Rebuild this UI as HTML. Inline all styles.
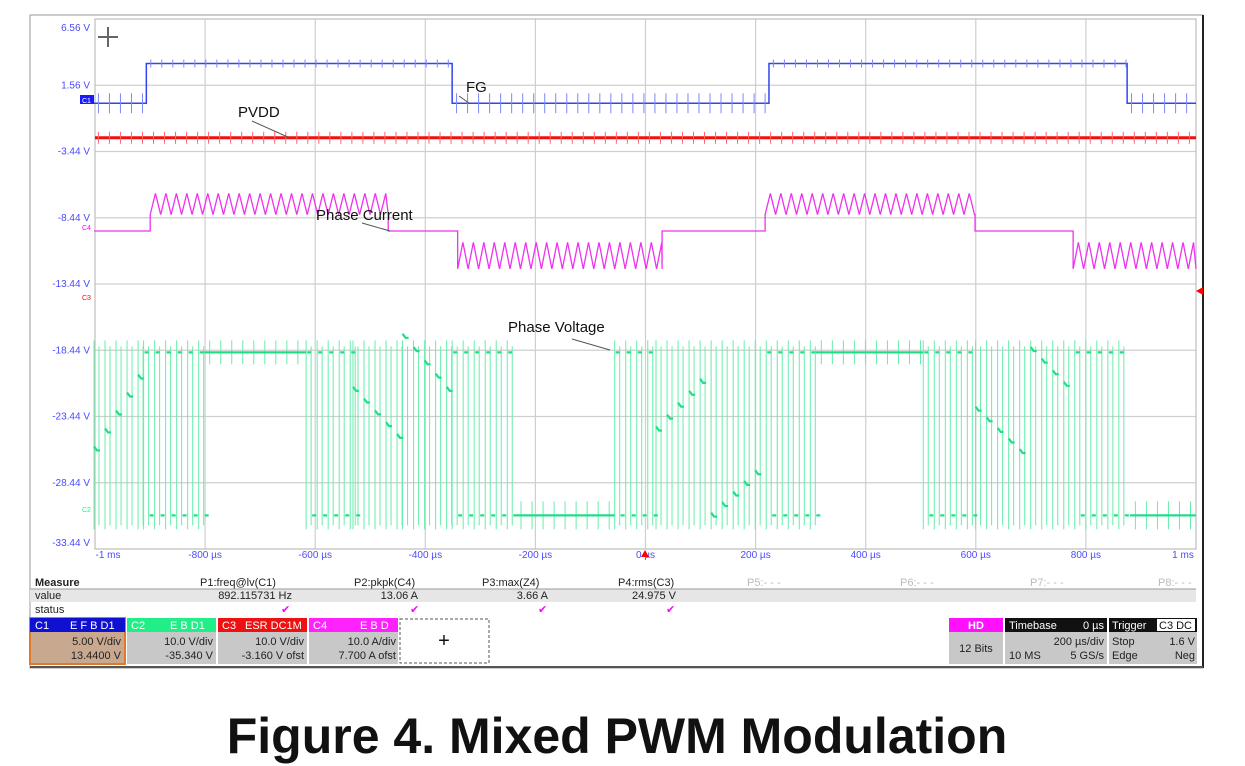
<!DOCTYPE html>
<html><head><meta charset="utf-8">
<style>
body{margin:0;background:#fff;width:1245px;height:766px;overflow:hidden;font-family:"Liberation Sans",sans-serif}
svg{position:absolute;left:0;top:0}
</style></head>
<body>
<svg id="scope" width="1245" height="766" viewBox="0 0 1245 766" xmlns="http://www.w3.org/2000/svg" font-family="Liberation Sans, sans-serif">
<rect x="30" y="15" width="1173" height="653" fill="#fff" stroke="#999" stroke-width="1"/>
<line x1="1203" y1="15" x2="1203" y2="668" stroke="#222" stroke-width="2"/>
<g id="grid"></g>
<g id="ylabels"></g>
<g id="xlabels"></g>
<g id="traces"></g>
<g stroke="#666" stroke-width="2" fill="none"><line x1="98" y1="37" x2="118" y2="37"/><line x1="108" y1="27" x2="108" y2="47"/></g>
<g font-size="15" fill="#111">
<text x="466" y="92">FG</text>
<line x1="459" y1="96" x2="469" y2="103" stroke="#555"/>
<text x="238" y="117">PVDD</text>
<line x1="252" y1="121" x2="290" y2="138" stroke="#555"/>
<text x="316" y="220">Phase Current</text>
<line x1="362" y1="223" x2="390" y2="231" stroke="#555"/>
<text x="508" y="332">Phase Voltage</text>
<line x1="572" y1="339" x2="610" y2="350" stroke="#555"/>
</g>
<rect x="80" y="95" width="14" height="9" fill="#1a1aff"/>
<text x="82" y="103" font-size="7" fill="#fff">C1</text>
<text x="82" y="230" font-size="7" fill="#f0f">C4</text>
<text x="82" y="300" font-size="7" fill="#f00">C3</text>
<text x="82" y="512" font-size="7" fill="#2e8">C2</text>
<polygon points="1196,291 1203,287 1203,295" fill="#f00"/>
<polygon points="645,550 641,557 649,557" fill="#f00"/>

<g font-size="11" fill="#222">
<text x="35" y="586" font-weight="bold">Measure</text>
<text x="200" y="586">P1:freq@lv(C1)</text>
<text x="354" y="586">P2:pkpk(C4)</text>
<text x="482" y="586">P3:max(Z4)</text>
<text x="618" y="586">P4:rms(C3)</text>
<text x="747" y="586" fill="#bbb">P5:- - -</text>
<text x="900" y="586" fill="#bbb">P6:- - -</text>
<text x="1030" y="586" fill="#bbb">P7:- - -</text>
<text x="1158" y="586" fill="#bbb">P8:- - -</text>
<rect x="30" y="589" width="1166" height="13" fill="#e6e6e6"/>
<line x1="30" y1="589" x2="1196" y2="589" stroke="#999"/>
<text x="35" y="599">value</text>
<text x="292" y="599" text-anchor="end">892.115731 Hz</text>
<text x="418" y="599" text-anchor="end">13.06 A</text>
<text x="548" y="599" text-anchor="end">3.66 A</text>
<text x="676" y="599" text-anchor="end">24.975 V</text>
<text x="35" y="613">status</text>
<g fill="#f0f" font-size="11"><text x="281" y="613">✔</text><text x="410" y="613">✔</text><text x="538" y="613">✔</text><text x="666" y="613">✔</text></g>
</g>
<g font-size="11">
<rect x="30" y="618" width="95" height="46" fill="#c8a88f" stroke="#e07a2a" stroke-width="2"/>
<rect x="30" y="618" width="95" height="14" fill="#1010d0"/>
<text x="35" y="629" fill="#fff">C1</text><text x="70" y="629" fill="#fff">E F B D1</text>
<text x="121" y="645" text-anchor="end" fill="#222">5.00 V/div</text><text x="121" y="659" text-anchor="end" fill="#222">13.4400 V</text>
<rect x="127" y="618" width="89" height="46" fill="#c8c8c8"/>
<rect x="127" y="618" width="89" height="14" fill="#22ee88"/>
<text x="131" y="629" fill="#fff">C2</text><text x="170" y="629" fill="#fff">E B D1</text>
<text x="213" y="645" text-anchor="end" fill="#222">10.0 V/div</text><text x="213" y="659" text-anchor="end" fill="#222">-35.340 V</text>
<rect x="218" y="618" width="89" height="46" fill="#c8c8c8"/>
<rect x="218" y="618" width="89" height="14" fill="#ee1111"/>
<text x="222" y="629" fill="#fff">C3</text><text x="245" y="629" fill="#fff">ESR DC1M</text>
<text x="304" y="645" text-anchor="end" fill="#222">10.0 V/div</text><text x="304" y="659" text-anchor="end" fill="#222">-3.160 V ofst</text>
<rect x="309" y="618" width="89" height="46" fill="#c8c8c8"/>
<rect x="309" y="618" width="89" height="14" fill="#ff22ff"/>
<text x="313" y="629" fill="#fff">C4</text><text x="360" y="629" fill="#fff">E B D</text>
<text x="396" y="645" text-anchor="end" fill="#222">10.0 A/div</text><text x="396" y="659" text-anchor="end" fill="#222">7.700 A ofst</text>
<rect x="400" y="619" width="89" height="44" fill="#fff" stroke="#555" stroke-dasharray="3,2"/>
<text x="444" y="647" text-anchor="middle" font-size="20" fill="#111">+</text>
<rect x="949" y="618" width="54" height="46" fill="#c8c8c8"/>
<rect x="949" y="618" width="54" height="14" fill="#ff11ff"/>
<text x="976" y="629" text-anchor="middle" fill="#fff" font-weight="bold">HD</text>
<text x="976" y="652" text-anchor="middle" fill="#222">12 Bits</text>
<rect x="1005" y="618" width="102" height="46" fill="#c8c8c8"/>
<rect x="1005" y="618" width="102" height="14" fill="#111"/>
<text x="1009" y="629" fill="#fff">Timebase</text><text x="1104" y="629" text-anchor="end" fill="#fff">0 µs</text>
<text x="1104" y="645" text-anchor="end" fill="#222">200 µs/div</text>
<text x="1009" y="659" fill="#222">10 MS</text><text x="1104" y="659" text-anchor="end" fill="#222">5 GS/s</text>
<rect x="1109" y="618" width="88" height="46" fill="#c8c8c8"/>
<rect x="1109" y="618" width="88" height="14" fill="#111"/>
<text x="1112" y="629" fill="#fff">Trigger</text><rect x="1157" y="619" width="38" height="12" fill="#fff"/><text x="1159" y="629" fill="#111">C3 DC</text>
<text x="1112" y="645" fill="#222">Stop</text><text x="1195" y="645" text-anchor="end" fill="#222">1.6 V</text>
<text x="1112" y="659" fill="#222">Edge</text><text x="1195" y="659" text-anchor="end" fill="#222">Neg</text>
</g>
<line x1="30" y1="667" x2="1203" y2="667" stroke="#555" stroke-width="2"/>
<text x="617" y="753" text-anchor="middle" font-size="50" font-weight="bold" fill="#111">Figure 4. Mixed PWM Modulation</text>
</svg>
<script>
const yTickLabels=["6.56 V","1.56 V","-3.44 V","-8.44 V","-13.44 V","-18.44 V","-23.44 V","-28.44 V","-33.44 V"];
const xTickLabels=["-1 ms","-800 µs","-600 µs","-400 µs","-200 µs","0 µs","200 µs","400 µs","600 µs","800 µs","1 ms"];
const fgSegments=[[-1000,-905,0.2],[-905,-350,3.2],[-350,-150,0.2],[-150,225,0.2],[225,875,3.2],[875,1000,0.2]];
const pvddLevel=[-2.4];
const curSegments=[[-1000,-898,-9.44,-9.44],[-898,-466,-8.2,-6.6],[-466,-340,-9.44,-9.44],[-340,31,-12.3,-10.3],[31,218,-9.44,-9.44],[218,599,-8.2,-6.6],[599,777,-9.44,-9.44],[777,1000,-12.3,-10.3]];
const pvSegments=[[-1000,-910,"ramp",-26,-19.9],[-910,-800,"pwm",0,0],[-800,-615,"high",0,0],[-615,-530,"pwm",0,0],[-530,-440,"ramp",-21.5,-25.5],[-440,-350,"ramp",-17.5,-22],[-350,-235,"pwm",0,0],[-235,-55,"low",0,0],[-55,20,"pwm",0,0],[20,120,"ramp",-24.5,-20],[120,220,"ramp",-31,-27],[220,310,"pwm",0,0],[310,505,"high",0,0],[505,600,"pwm",0,0],[600,700,"ramp",-23,-27],[700,780,"ramp",-18.5,-22],[780,880,"pwm",0,0],[880,1000,"low",0,0]];
const pvHigh=[-18.6], pvLow=[-30.9];

const NS="http://www.w3.org/2000/svg";
const X0=95,X1=1196,Y0=19,Y1=549;
const xs=t=>645+t/1000*(X1-645);
const ys=v=>Y0+(6.56-v)/5*66.25;
function el(tag,attrs,parent){const e=document.createElementNS(NS,tag);for(const k in attrs)e.setAttribute(k,attrs[k]);parent.appendChild(e);return e;}
const grid=document.getElementById('grid');
for(let i=0;i<=10;i++){const x=X0+i*(X1-X0)/10;el('line',{x1:x,y1:Y0,x2:x,y2:Y1,stroke:'#cfcfcf','stroke-width':1.2},grid);}
for(let i=0;i<=8;i++){const y=Y0+i*(Y1-Y0)/8;el('line',{x1:X0,y1:y,x2:X1,y2:y,stroke:'#cfcfcf','stroke-width':1.2},grid);}
el('rect',{x:X0,y:Y0,width:X1-X0,height:Y1-Y0,fill:'none',stroke:'#bbb'},grid);
const yl=document.getElementById('ylabels');
yTickLabels.forEach((s,i)=>{const t=el('text',{x:90,y:Y0+i*(Y1-Y0)/8+(i==0?12:3)+ (i==8?-6:0),'text-anchor':'end','font-size':10,fill:'#4a4aff'},yl);t.textContent=s;

});
const xl=document.getElementById('xlabels');
xTickLabels.forEach((s,i)=>{const x=X0+i*(X1-X0)/10;const t=el('text',{x:i==0?x+13:(i==10?x-13:x),y:558,'text-anchor':'middle','font-size':10,fill:'#4a4aff'},xl);t.textContent=s;

});
const tr=document.getElementById('traces');
let d='';fgSegments.forEach((s,i)=>{d+=(i==0?'M':'L')+xs(s[0])+','+ys(s[2])+'L'+xs(s[1])+','+ys(s[2]);});
const fg=el('path',{d:d,fill:'none',stroke:'#3344ee','stroke-width':1.5},tr);


let tk='';fgSegments.forEach(s=>{for(let t=s[0]+8;t<s[1];t+=20){const y=ys(s[2]);const h=s[2]>1?4:10;tk+='M'+xs(t)+','+(y-h)+'V'+(y+h);}});
el('path',{d:tk,stroke:'#7a88ff','stroke-width':1},tr);
const py=ys(pvddLevel[0]);
const pv=el('line',{x1:X0,y1:py,x2:X1,y2:py,stroke:'#ee1111','stroke-width':3},tr);


let pt='';for(let t=-992;t<1000;t+=20){pt+='M'+xs(t)+','+(py-6)+'V'+(py+6);}
el('path',{d:pt,stroke:'#ff6666','stroke-width':1},tr);
let cd='';curSegments.forEach((s,i)=>{
 if(s[2]==s[3]){cd+=(i==0?'M':'L')+xs(s[0])+','+ys(s[2])+'L'+xs(s[1])+','+ys(s[2]);}
 else{let up=true;cd+='L'+xs(s[0])+','+ys(s[2]);for(let t=s[0]+9.5;t<s[1];t+=9.5){cd+='L'+xs(t)+','+ys(up?s[3]:s[2]);up=!up;}cd+='L'+xs(s[1])+','+ys(s[2]);}
});
const cur=el('path',{d:cd,fill:'none',stroke:'#ee33ee','stroke-width':1.3},tr);


const hy=ys(pvHigh[0]),ly=ys(pvLow[0]);
let vl='',dash='';
pvSegments.forEach(s=>{
 const [a,b,k,r0,r1]=s;
 if(k=='high'||k=='low'){const y=k=='high'?hy:ly;dash+='M'+xs(a)+','+y+'H'+xs(b);for(let t=a+10;t<b;t+=20){vl+='M'+xs(t)+','+(y-(k=='high'?12:14))+'V'+(y+(k=='high'?12:14));}}
 else{for(let t=a;t<b;t+=20){const x=xs(t);vl+='M'+x+','+(hy-12)+'V'+(ly+14);vl+='M'+(x+5)+','+(hy-6)+'V'+(ly+10);
  if(k=='pwm'){dash+='M'+(x+1)+','+hy+'h4M'+(x+6)+','+ly+'h4';}
  else{const v=r0+(r1-r0)*(t-a)/(b-a);const y=ys(v);dash+='M'+x+','+(y-4)+'l3,4h3';}}}
});
el('path',{d:vl,stroke:'#66eeaa','stroke-width':1},tr);
const pvt=el('path',{d:dash,fill:'none',stroke:'#22dd88','stroke-width':2.2},tr);


</script>
</body></html>
